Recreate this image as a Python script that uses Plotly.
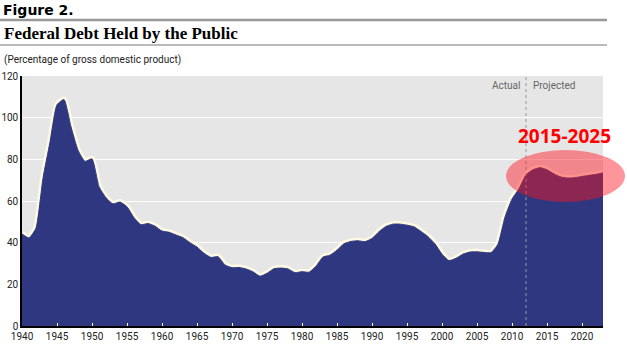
import plotly.graph_objects as go

years = list(range(1940, 2024))
debt_pct_gdp = [
    44.2, 42.3, 47.0, 70.9, 88.3, 106.2, 108.7, 95.6, 84.4, 79.0,   # 1940-1949
    80.2, 66.9, 61.6, 58.6, 59.5, 57.2, 52.0, 48.6, 49.2, 47.9,     # 1950-1959
    45.6, 45.0, 43.7, 42.4, 40.0, 37.9, 34.9, 32.9, 33.3, 29.3,     # 1960-1969
    28.0, 28.1, 27.4, 26.0, 23.9, 25.3, 27.5, 27.8, 27.4, 25.6,     # 1970-1979
    26.1, 25.8, 28.7, 33.1, 34.0, 36.4, 39.5, 40.6, 40.9, 40.5,     # 1980-1989
    42.0, 45.3, 47.8, 48.9, 48.9, 48.4, 47.6, 45.4, 42.9, 39.4,     # 1990-1999
    34.5, 31.4, 32.5, 34.5, 35.5, 35.6, 35.3, 35.2, 39.3, 52.3,     # 2000-2009
    60.9, 65.9, 72.5, 75.0, 76.0, 75.0, 73.0, 71.5, 71.0, 71.2,     # 2010-2019
    71.8, 72.3, 72.8, 73.5,                                         # 2020-2023
]
x_ticks = list(range(1940, 2021, 5))
y_ticks = [0, 20, 40, 60, 80, 100, 120]
split_year = 2012

W, H = 627, 346
L, R, T, B = 22, 24, 76, 20
PW, PH = W - L - R, H - T - B

def px(xp):
    return (xp - L) / PW

def py(yp):
    return (H - B - yp) / PH

fig = go.Figure()

# soft halo along the edge of the area
fig.add_trace(go.Scatter(
    x=years, y=debt_pct_gdp, mode="lines",
    line=dict(color="rgba(255,250,225,0.95)", width=6, shape="spline", smoothing=0.5),
    hoverinfo="skip", showlegend=False,
))
fig.add_trace(go.Scatter(
    x=years, y=debt_pct_gdp, mode="lines", fill="tozeroy",
    fillcolor="#2f3780",
    line=dict(color="#2f3780", width=1, shape="spline", smoothing=0.5),
    showlegend=False,
))

tick_font = dict(family="Roboto, Liberation Sans, sans-serif", size=10, color="#222")

fig.update_layout(
    width=W, height=H,
    margin=dict(l=L, r=R, t=T, b=B, pad=0, autoexpand=False),
    paper_bgcolor="white",
    plot_bgcolor="#e6e6e6",
    xaxis=dict(
        range=[1940, 2023], tickmode="array", tickvals=x_ticks,
        ticktext=[str(v) for v in x_ticks],
        showgrid=False, zeroline=False, automargin=False,
        ticks="inside", ticklen=3, tickwidth=1, tickcolor="white",
        showline=True, linecolor="black", linewidth=1.5,
        tickfont=tick_font,
    ),
    yaxis=dict(
        range=[0, 120], tickmode="array", tickvals=y_ticks,
        ticktext=[str(v) for v in y_ticks],
        showgrid=True, gridcolor="white", gridwidth=1, zeroline=False, automargin=False,
        ticks="inside", ticklen=3, tickwidth=1, tickcolor="white",
        showline=True, linecolor="black", linewidth=1.5,
        tickfont=tick_font, layer="below traces",
    ),
)

shapes = [
    # Actual / projected divider
    dict(type="line", xref="x", yref="paper", x0=split_year, x1=split_year, y0=0, y1=1,
         line=dict(color="#999", width=1, dash="dot"), layer="above"),
    # header rules
    dict(type="line", xref="paper", yref="paper", x0=px(0), x1=px(607), y0=py(20), y1=py(20),
         line=dict(color="#999", width=2.5)),
    dict(type="line", xref="paper", yref="paper", x0=px(0), x1=px(607), y0=py(45), y1=py(45),
         line=dict(color="#777", width=1)),
    # highlight ellipse
    dict(type="circle", xref="paper", yref="paper", x0=px(506), x1=px(625), y0=py(202), y1=py(150),
         fillcolor="rgba(255,20,30,0.45)", line=dict(width=0), layer="above"),
]
fig.update_layout(shapes=shapes)

annotations = [
    dict(text="Figure 2.", xref="paper", yref="paper", x=px(1), y=py(10), xanchor="left", yanchor="middle",
         showarrow=False, font=dict(family="DejaVu Sans", size=14, color="black", weight=900)),
    dict(text="<b>Federal Debt Held by the Public</b>", xref="paper", yref="paper", x=px(2), y=py(33),
         xanchor="left", yanchor="middle", showarrow=False,
         font=dict(family="Liberation Serif, serif", size=17, color="black")),
    dict(text="(Percentage of gross domestic product)", xref="paper", yref="paper", x=px(2), y=py(60),
         xanchor="left", yanchor="middle", showarrow=False,
         font=dict(family="Roboto, sans-serif", size=10, color="#222")),
    dict(text="Actual", xref="x", yref="paper", x=split_year, y=py(85), xanchor="right", yanchor="middle",
         xshift=-4, showarrow=False, font=dict(family="Roboto, sans-serif", size=10, color="#666")),
    dict(text="Projected", xref="x", yref="paper", x=split_year, y=py(85), xanchor="left", yanchor="middle",
         xshift=5, showarrow=False, font=dict(family="Roboto, sans-serif", size=10, color="#666")),
    dict(text="<b>2015-2025</b>", xref="paper", yref="paper", x=px(564), y=py(136), xanchor="center", yanchor="middle",
         showarrow=False, font=dict(family="Open Sans, sans-serif", size=19, color="#ff0000")),
]
fig.update_layout(annotations=annotations)

fig.write_html("out.html")
